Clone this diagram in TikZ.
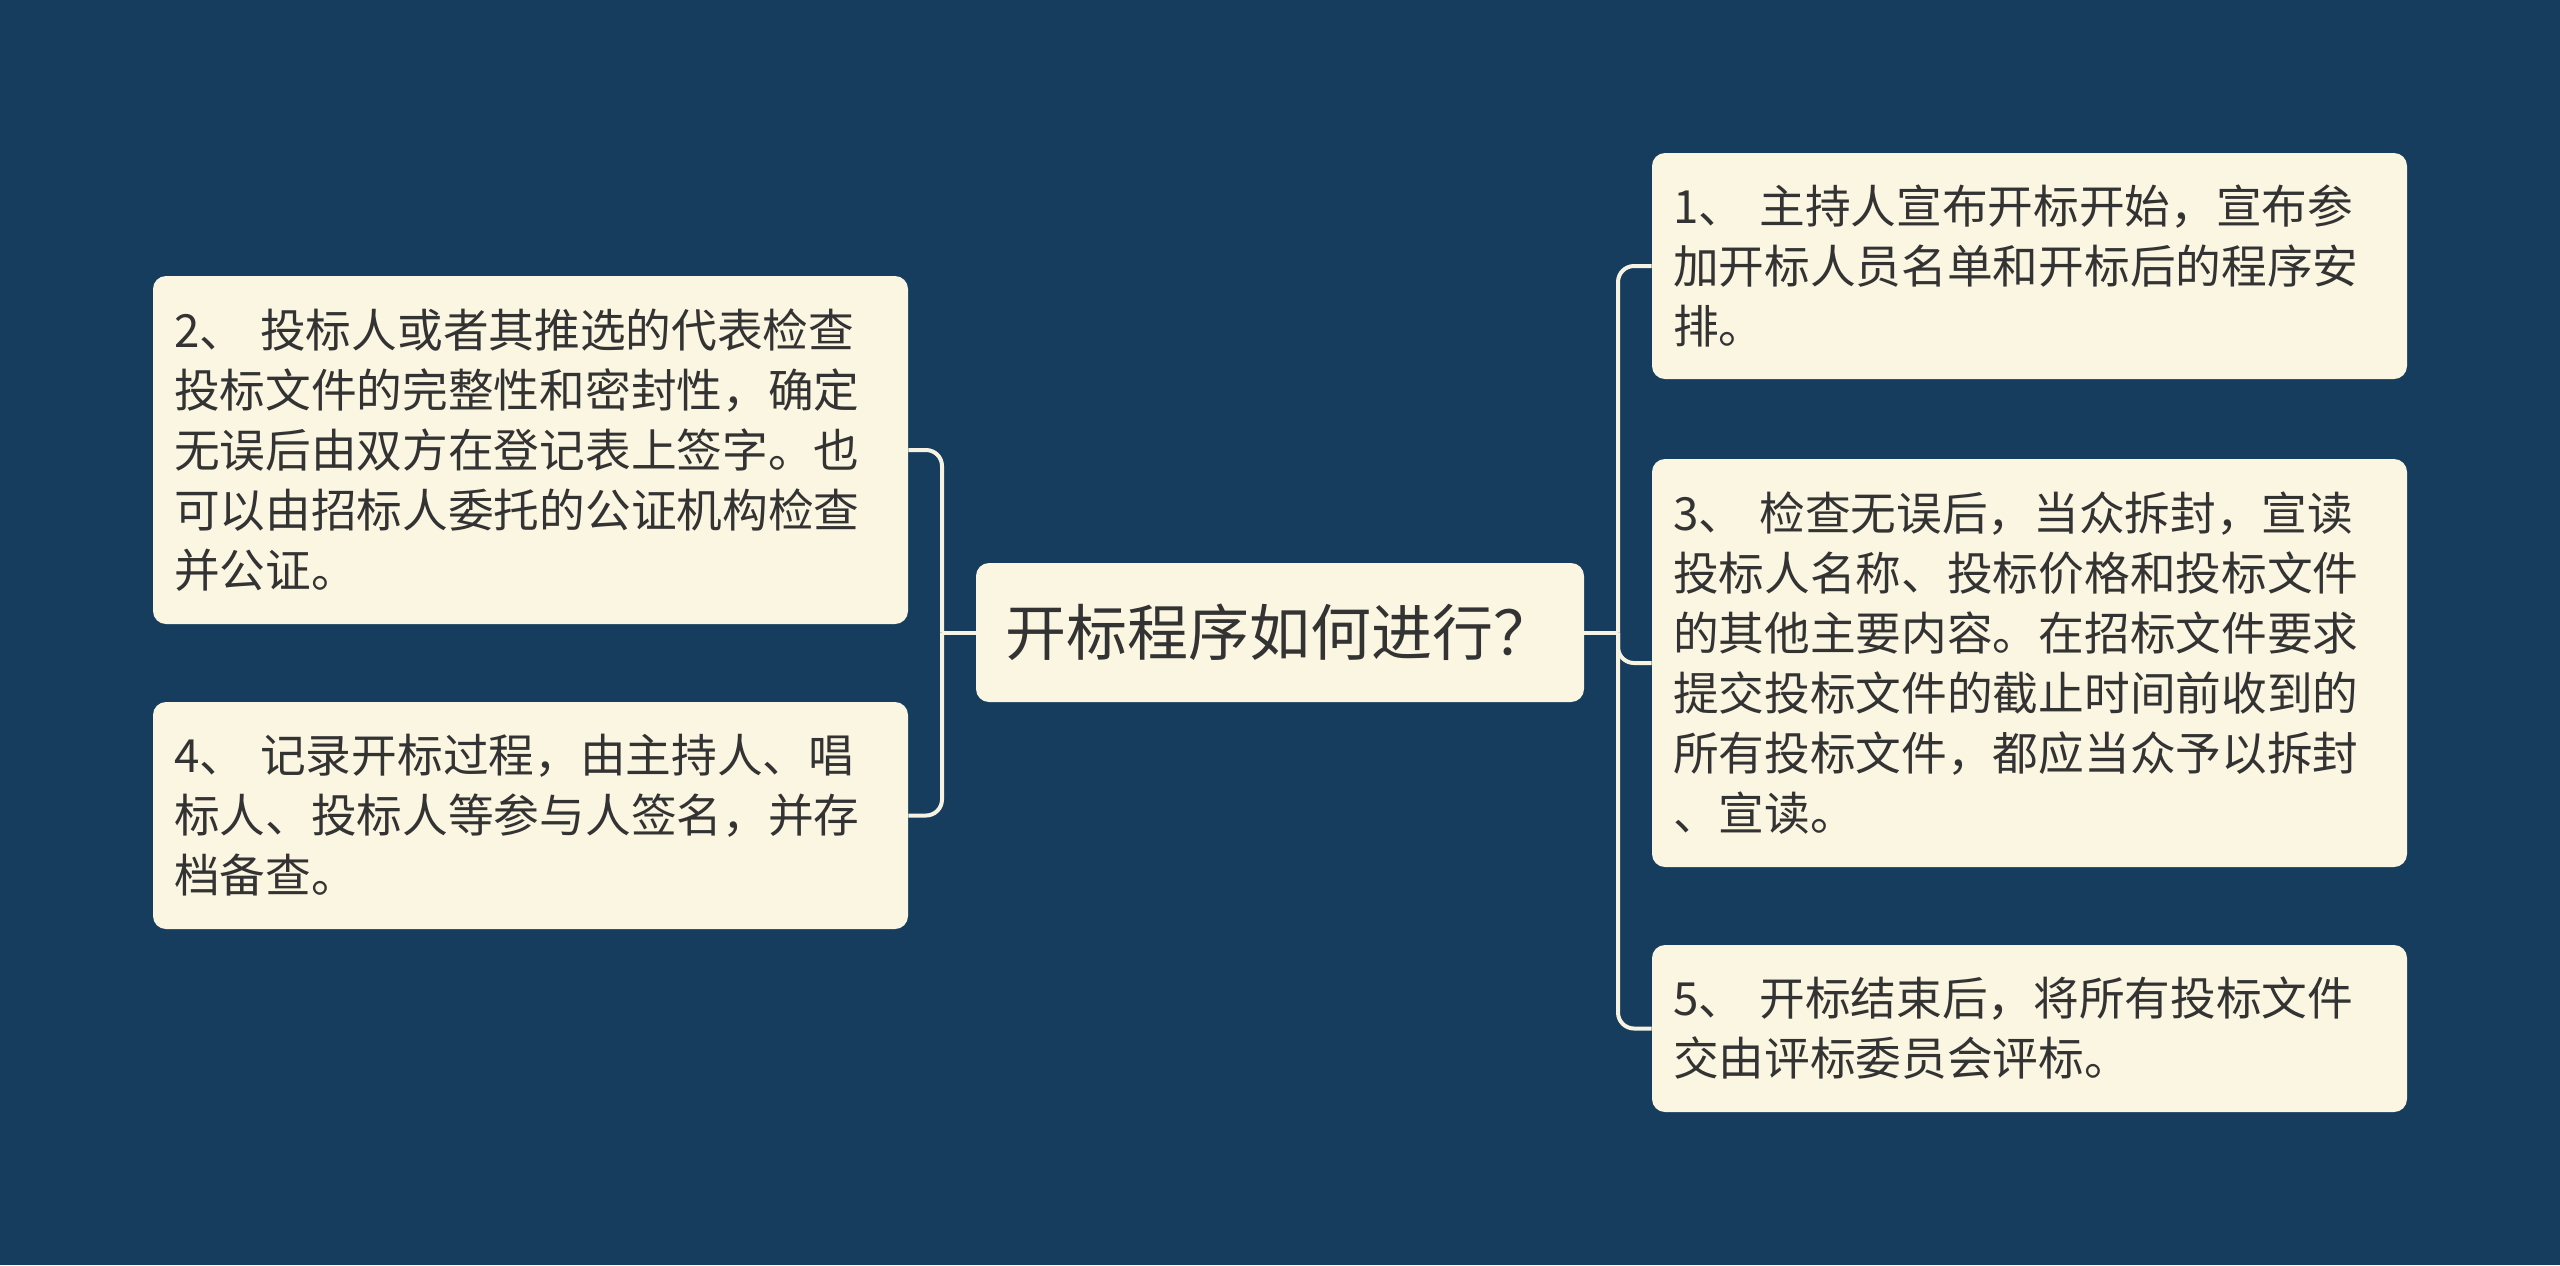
\documentclass[tikz,border=0pt]{standalone}
\usepackage{fontspec}
\newfontfamily\cjk{Noto Sans CJK SC}
\definecolor{bg}{HTML}{173D5E}
\definecolor{boxfill}{HTML}{FBF6E2}
\definecolor{txt}{HTML}{333333}
\definecolor{linec}{HTML}{F7F3E3}
\begin{document}
\begin{tikzpicture}[x=0.5pt,y=-0.5pt,
  box/.style={fill=boxfill, rounded corners=6.5pt, text=txt, align=left,
    text width=356.5pt, inner xsep=10.5pt, inner ysep=0pt,
    font=\cjk\fontsize{22.85pt}{30pt}\selectfont, anchor=center},
  rootbox/.style={fill=boxfill, rounded corners=6.5pt, text=txt,
    minimum width=304pt, minimum height=69.5pt, inner sep=0pt,
    font=\cjk\fontsize{30.5pt}{36pt}\selectfont, anchor=center},
  link/.style={draw=linec, line width=2pt, rounded corners=8pt}]
\fill[bg] (0,0) rectangle (2560,1265);
\useasboundingbox (0,0) rectangle (2560,1265);

\node[rootbox] (c) at (1280,632.5) {开标程序如何进行？};

\node[box, minimum height=113pt] (n1) at (2029.5,266)
  {1、 主持人宣布开标开始，宣布参\\加开标人员名单和开标后的程序安\\排。};
\node[box, minimum height=204pt] (n3) at (2029.5,663)
  {3、 检查无误后，当众拆封，宣读\\投标人名称、投标价格和投标文件\\的其他主要内容。在招标文件要求\\提交投标文件的截止时间前收到的\\所有投标文件，都应当众予以拆封\\、宣读。};
\node[box, minimum height=83.5pt] (n5) at (2029.5,1028.5)
  {5、 开标结束后，将所有投标文件\\交由评标委员会评标。};
\node[box, minimum height=174pt] (n2) at (530.5,450)
  {2、 投标人或者其推选的代表检查\\投标文件的完整性和密封性，确定\\无误后由双方在登记表上签字。也\\可以由招标人委托的公证机构检查\\并公证。};
\node[box, minimum height=113.5pt] (n4) at (530.5,815.5)
  {4、 记录开标过程，由主持人、唱\\标人、投标人等参与人签名，并存\\档备查。};

\coordinate (rj) at (1618,632.5);
\coordinate (lj) at (942,632.5);
\draw[link] (c.east) -- (rj);
\draw[link] (c.west) -- (lj);
\draw[link] (rj) |- (n1.west);
\draw[link] (rj) |- (n3.west);
\draw[link] (rj) |- (n5.west);
\draw[link] (lj) |- (n2.east);
\draw[link] (lj) |- (n4.east);
\end{tikzpicture}
\end{document}
